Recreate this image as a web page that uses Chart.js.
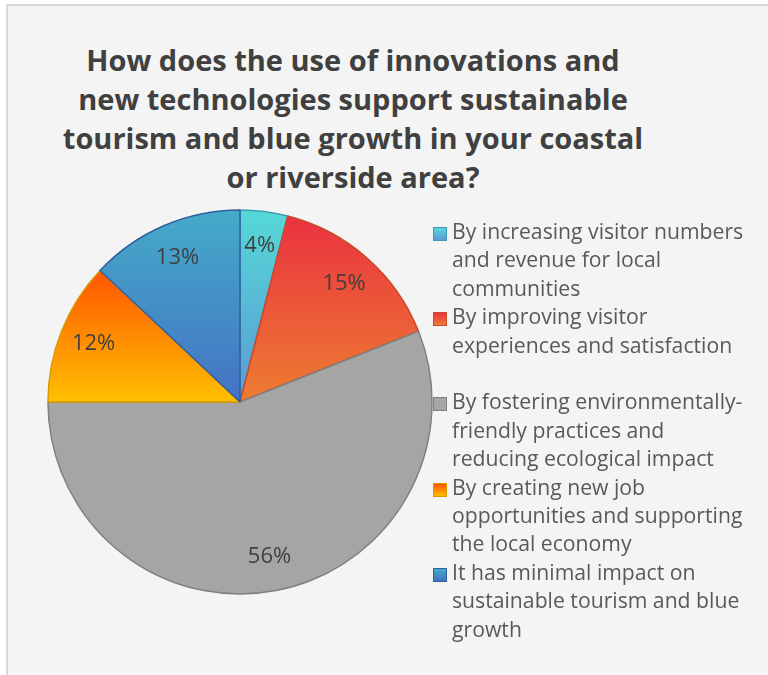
<!DOCTYPE html>
<html>
<head>
<meta charset="utf-8">
<script src="https://cdn.jsdelivr.net/npm/chart.js@4.4.0/dist/chart.umd.min.js"></script>
<style>
  html, body { margin: 0; padding: 0; background: #fff; }
  body { width: 768px; height: 675px; overflow: hidden; position: relative; font-family: 'Open Sans', sans-serif; }
  .frame { position: absolute; left: 6px; top: 4px; width: 800px; height: 700px; background: #f4f4f4;
           border-top: 2px solid #d9d9d9; border-left: 2px solid #d9d9d9; }
  #title { position: absolute; left: 6px; width: 694px; top: 40px; text-align: center; font-weight: 700;
           font-size: 29px; line-height: 39px; color: #404040; }
  #pie { position: absolute; left: 40px; top: 202px; }
  #legend { position: absolute; left: 433px; top: 217px; width: 318px; font-size: 21.2px; line-height: 28.4px; color: #595959; }
  .item { position: relative; height: 85.2px; padding-left: 19px; }
  .swatch { position: absolute; left: 0; top: 10px; width: 12px; height: 12px; border: 1px solid; }
</style>
</head>
<body>
<div class="frame"></div>
<div id="title"></div>
<canvas id="pie" width="400" height="400"></canvas>
<div id="legend"></div>

<script>
const titleLines = [
  'How does the use of innovations and',
  'new technologies support sustainable',
  'tourism and blue growth in your coastal',
  'or riverside area?'
];
const labels = [
  'By increasing visitor numbers and revenue for local communities',
  'By improving visitor experiences and satisfaction',
  'By fostering environmentally-friendly practices and reducing ecological impact',
  'By creating new job opportunities and supporting the local economy',
  'It has minimal impact on sustainable tourism and blue growth'
];
const values = [4, 15, 56, 12, 13];

// slice fills run top -> bottom, gray one is flat
const topColors = ['#55d8d6', '#ea3240', '#a5a5a5', '#ff5500', '#44abc9'];
const bottomColors = ['#5b9bd5', '#ed7d31', '#a5a5a5', '#ffc000', '#4472c4'];
const edgeColors = ['#3f9bb5', '#c9472a', '#808080', '#d99a00', '#2f5f9e'];

const pieRadius = 192;

document.getElementById('title').innerHTML = titleLines.join('<br>');

const legend = document.getElementById('legend');
labels.forEach((txt, i) => {
  const item = document.createElement('div');
  item.className = 'item';
  const sw = document.createElement('span');
  sw.className = 'swatch';
  sw.style.background = `linear-gradient(${topColors[i]}, ${bottomColors[i]})`;
  sw.style.borderColor = edgeColors[i];
  item.appendChild(sw);
  item.appendChild(document.createTextNode(txt));
  legend.appendChild(item);
});

// vertical gradient over the slice's own height
function sliceFill(ctx) {
  const chart = ctx.chart;
  const area = chart.chartArea;
  const i = ctx.dataIndex;
  if (!area) return bottomColors[i];
  const total = values.reduce((a, b) => a + b, 0);
  let before = 0;
  for (let k = 0; k < i; k++) before += values[k];
  const a0 = -Math.PI / 2 + before / total * 2 * Math.PI;
  const a1 = a0 + values[i] / total * 2 * Math.PI;
  const cy = (area.top + area.bottom) / 2;
  const ys = [cy, cy + pieRadius * Math.sin(a0), cy + pieRadius * Math.sin(a1)];
  [-Math.PI / 2, Math.PI / 2, 3 * Math.PI / 2].forEach(t => {
    if (t >= a0 && t <= a1) ys.push(cy + pieRadius * Math.sin(t));
  });
  const g = chart.ctx.createLinearGradient(0, Math.min(...ys), 0, Math.max(...ys));
  g.addColorStop(0, topColors[i]);
  g.addColorStop(1, bottomColors[i]);
  return g;
}

const sliceLabels = {
  id: 'sliceLabels',
  afterDatasetsDraw(chart) {
    const c = chart.ctx;
    const meta = chart.getDatasetMeta(0);
    c.save();
    c.font = '22px "Open Sans"';
    c.fillStyle = '#404040';
    c.textAlign = 'center';
    c.textBaseline = 'middle';
    meta.data.forEach((arc, i) => {
      const mid = (arc.startAngle + arc.endAngle) / 2;
      const d = arc.outerRadius * 0.82;
      c.fillText(values[i] + '%', arc.x + Math.cos(mid) * d, arc.y + Math.sin(mid) * d);
    });
    c.restore();
  }
};

document.fonts.load('22px "Open Sans"').then(() => {
  new Chart(document.getElementById('pie'), {
    type: 'pie',
    data: {
      labels: labels,
      datasets: [{
        data: values,
        backgroundColor: sliceFill,
        borderColor: edgeColors,
        borderWidth: 1.5
      }]
    },
    options: {
      responsive: false,
      animation: false,
      radius: pieRadius,
      layout: { padding: 0 },
      plugins: {
        legend: { display: false },
        tooltip: { enabled: false },
        title: { display: false }
      }
    },
    plugins: [sliceLabels]
  });
});
</script>
</body>
</html>
